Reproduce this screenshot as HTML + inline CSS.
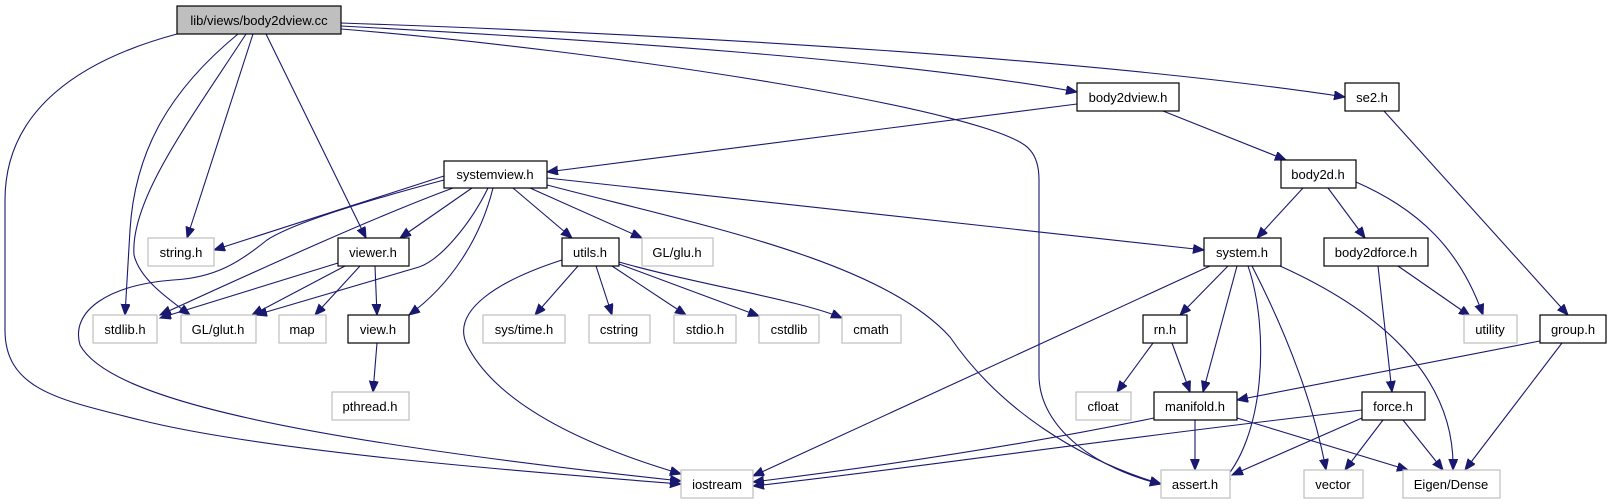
<!DOCTYPE html>
<html><head><meta charset="utf-8"><style>
html,body{margin:0;padding:0;background:#fff;}
svg{display:block;}
text{font-family:"Liberation Sans",sans-serif;font-size:13px;fill:#000;text-anchor:middle;}
.e{fill:none;stroke:#191970;stroke-width:1.1;marker-end:url(#a);}
.n{fill:#fff;stroke:#000;stroke-width:1.2;}
.g{fill:#fff;stroke:#bfbfbf;stroke-width:1.2;}
</style></head><body>
<svg width="1611" height="504" viewBox="0 0 1611 504" xmlns="http://www.w3.org/2000/svg">
<defs><marker id="a" markerUnits="userSpaceOnUse" markerWidth="12" markerHeight="10" refX="11" refY="4.5" orient="auto"><path d="M0,0 L11,4.5 L0,9 z" fill="#191970" stroke="#191970"/></marker></defs>
<path class="e" d="M177,34 C80,60 5,110 5,200 L5,330 C5,390 60,400 140,420 C260,450 500,470 681,484"/>
<path class="e" d="M238,34 C170,90 135,150 130,230 L125,315"/>
<path class="e" d="M246,34 C190,120 130,200 134,255 C140,280 170,300 190,315"/>
<path class="e" d="M253,34 L187,238"/>
<path class="e" d="M266,34 L366,238"/>
<path class="e" d="M341,26 C600,40 900,60 1077,92"/>
<path class="e" d="M341,23 C700,35 1100,60 1345,97"/>
<path class="e" d="M341,29 C600,50 1000,110 1030,150 Q1039,160 1039,180 L1039,375 C1039,430 1100,470 1161,484"/>
<path class="e" d="M1077,104 L547,172"/>
<path class="e" d="M1163,111 L1286,160"/>
<path class="e" d="M1384,111 L1568,315"/>
<path class="e" d="M444,176 L214,250"/>
<path class="e" d="M444,180 C350,205 290,225 267,240 C240,262 215,278 173,280 C110,285 70,310 80,345 C110,400 300,440 681,481"/>
<path class="e" d="M472,188 L400,238"/>
<path class="e" d="M488,188 C470,225 440,260 419,267 L256,315"/>
<path class="e" d="M453,188 C380,215 280,260 160,315"/>
<path class="e" d="M493,188 C480,240 450,285 409,315"/>
<path class="e" d="M513,188 L572,238"/>
<path class="e" d="M530,188 L642,238"/>
<path class="e" d="M547,185 C700,225 880,260 950,337 C1000,410 1080,460 1161,484"/>
<path class="e" d="M547,178 L1204,250"/>
<path class="e" d="M338,263 L160,318"/>
<path class="e" d="M345,266 L252,315"/>
<path class="e" d="M360,266 L315,315"/>
<path class="e" d="M375,266 L377,315"/>
<path class="e" d="M377,343 L373,392"/>
<path class="e" d="M562,260 C500,280 450,310 467,345 C500,410 600,450 681,474"/>
<path class="e" d="M578,266 L535,315"/>
<path class="e" d="M596,266 L612,315"/>
<path class="e" d="M612,266 L686,315"/>
<path class="e" d="M619,264 L759,316"/>
<path class="e" d="M619,262 C700,285 800,300 842,318"/>
<path class="e" d="M1303,188 L1257,238"/>
<path class="e" d="M1328,188 L1365,238"/>
<path class="e" d="M1356,182 C1420,210 1460,250 1483,315"/>
<path class="e" d="M1210,266 L753,476"/>
<path class="e" d="M1228,266 L1180,315"/>
<path class="e" d="M1237,266 L1203,392"/>
<path class="e" d="M1248,266 C1270,330 1265,440 1220,484"/>
<path class="e" d="M1252,266 C1290,340 1315,410 1326,470"/>
<path class="e" d="M1280,266 C1400,320 1455,390 1453,470"/>
<path class="e" d="M1378,266 L1392,392"/>
<path class="e" d="M1398,266 L1470,316"/>
<path class="e" d="M1153,343 L1117,392"/>
<path class="e" d="M1172,343 L1190,392"/>
<path class="e" d="M1540,341 L1237,400"/>
<path class="e" d="M1562,343 L1465,470"/>
<path class="e" d="M1154,418 C1000,450 850,470 753,482"/>
<path class="e" d="M1195,420 L1195,470"/>
<path class="e" d="M1237,418 L1408,470"/>
<path class="e" d="M1362,410 C1100,440 900,470 753,486"/>
<path class="e" d="M1362,418 L1232,475"/>
<path class="e" d="M1383,420 L1345,470"/>
<path class="e" d="M1403,420 L1443,470"/>
<rect x="177" y="6" width="164" height="28" fill="#bfbfbf" stroke="#000" stroke-width="1.2"/><text x="259" y="25">lib/views/body2dview.cc</text>
<rect class="n" x="1077" y="83" width="102" height="28"/><text x="1128" y="102">body2dview.h</text>
<rect class="n" x="1345" y="83" width="54" height="28"/><text x="1372" y="102">se2.h</text>
<rect class="n" x="444" y="161" width="103" height="27"/><text x="495" y="179">systemview.h</text>
<rect class="n" x="1281" y="160" width="75" height="28"/><text x="1318" y="179">body2d.h</text>
<rect class="g" x="148" y="238" width="66" height="28"/><text x="181" y="257">string.h</text>
<rect class="n" x="338" y="238" width="71" height="28"/><text x="373" y="257">viewer.h</text>
<rect class="n" x="562" y="238" width="57" height="28"/><text x="590" y="257">utils.h</text>
<rect class="g" x="642" y="238" width="71" height="28"/><text x="677" y="257">GL/glu.h</text>
<rect class="n" x="1204" y="238" width="77" height="28"/><text x="1242" y="257">system.h</text>
<rect class="n" x="1324" y="238" width="104" height="28"/><text x="1376" y="257">body2dforce.h</text>
<rect class="g" x="93" y="315" width="64" height="28"/><text x="125" y="334">stdlib.h</text>
<rect class="g" x="181" y="315" width="75" height="28"/><text x="218" y="334">GL/glut.h</text>
<rect class="g" x="279" y="315" width="47" height="28"/><text x="302" y="334">map</text>
<rect class="n" x="348" y="315" width="61" height="28"/><text x="378" y="334">view.h</text>
<rect class="g" x="483" y="315" width="82" height="28"/><text x="524" y="334">sys/time.h</text>
<rect class="g" x="589" y="315" width="61" height="28"/><text x="619" y="334">cstring</text>
<rect class="g" x="674" y="315" width="62" height="28"/><text x="705" y="334">stdio.h</text>
<rect class="g" x="759" y="315" width="60" height="28"/><text x="789" y="334">cstdlib</text>
<rect class="g" x="842" y="315" width="59" height="28"/><text x="871" y="334">cmath</text>
<rect class="n" x="1143" y="315" width="44" height="28"/><text x="1165" y="334">rn.h</text>
<rect class="g" x="1464" y="315" width="53" height="28"/><text x="1490" y="334">utility</text>
<rect class="n" x="1540" y="315" width="66" height="28"/><text x="1573" y="334">group.h</text>
<rect class="g" x="332" y="392" width="77" height="28"/><text x="370" y="411">pthread.h</text>
<rect class="g" x="1076" y="392" width="55" height="28"/><text x="1103" y="411">cfloat</text>
<rect class="n" x="1154" y="392" width="83" height="28"/><text x="1195" y="411">manifold.h</text>
<rect class="n" x="1362" y="392" width="63" height="28"/><text x="1393" y="411">force.h</text>
<rect class="g" x="681" y="470" width="72" height="28"/><text x="717" y="489">iostream</text>
<rect class="g" x="1161" y="470" width="69" height="28"/><text x="1195" y="489">assert.h</text>
<rect class="g" x="1304" y="470" width="59" height="28"/><text x="1333" y="489">vector</text>
<rect class="g" x="1403" y="470" width="97" height="28"/><text x="1451" y="489">Eigen/Dense</text>
</svg>
</body></html>
